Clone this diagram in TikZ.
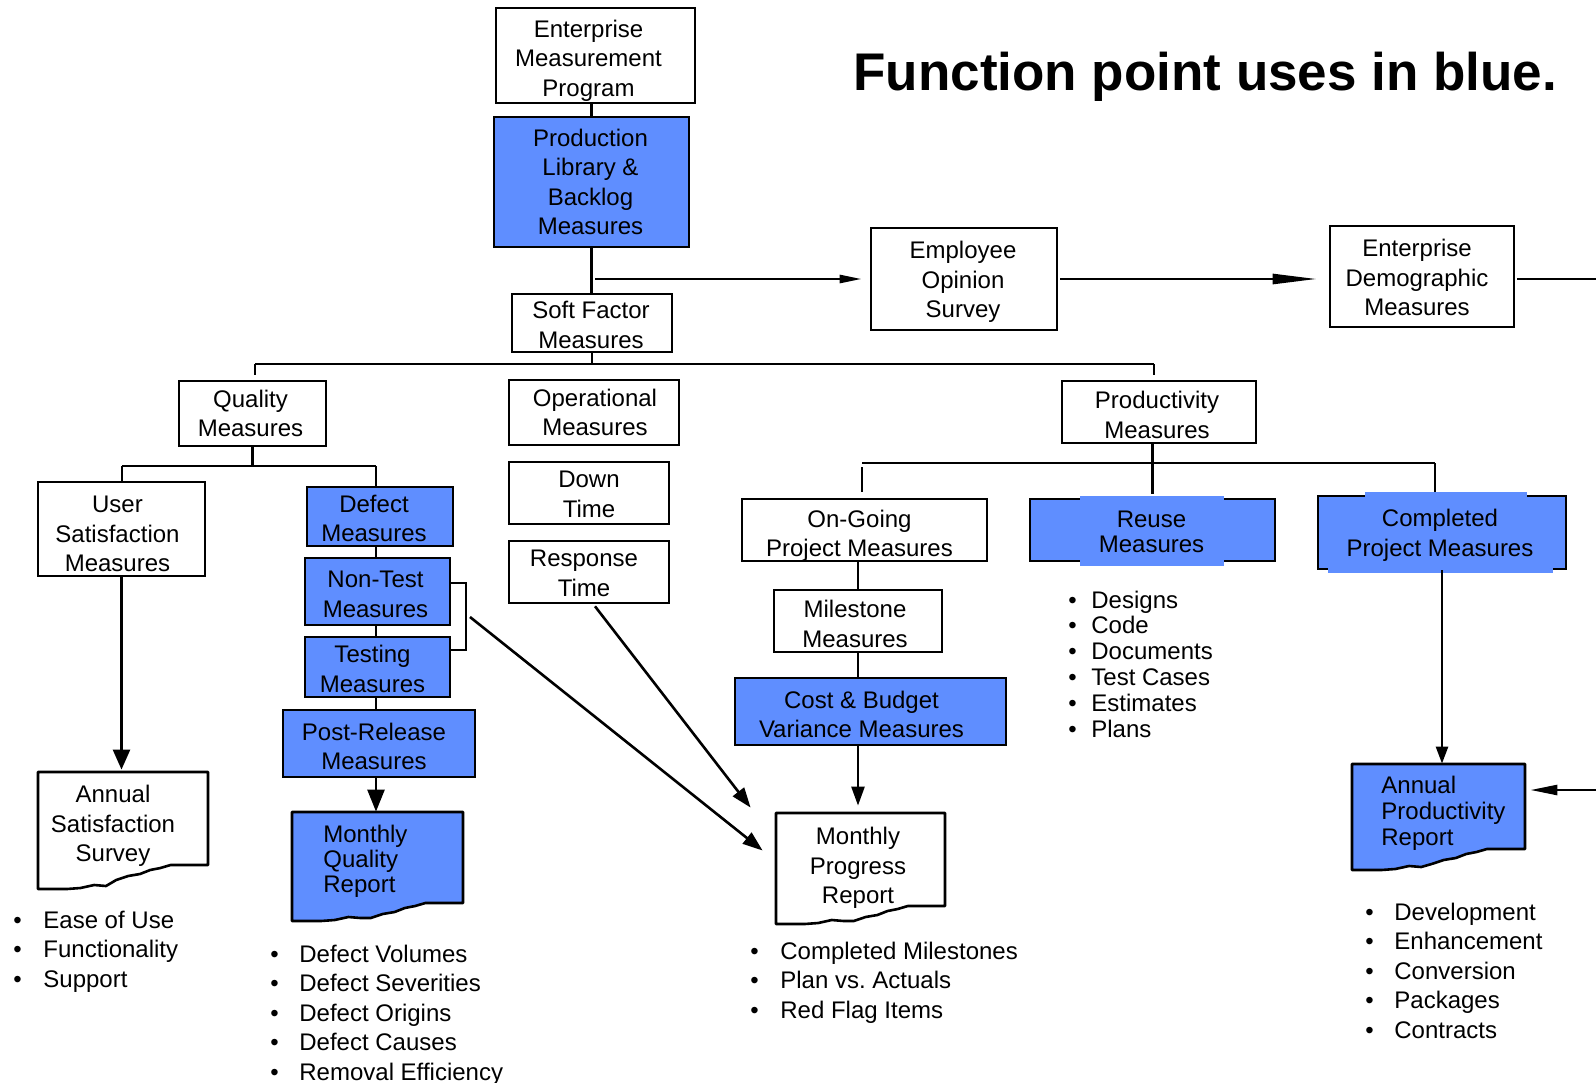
\documentclass[tikz,border=0pt]{standalone}
\usepackage{fontspec}
\setmainfont{Liberation Sans}
\usetikzlibrary{arrows.meta,calc}
\definecolor{fpblue}{HTML}{5F8EFF}
\frenchspacing
\tikzset{
  box/.style={draw, line width=1.3pt, inner sep=0pt},
  bluebox/.style={box, fill=fpblue},
  ghost/.style={inner sep=0pt},
  txt/.style={inner sep=0pt, align=center, font=\fontsize{12}{14.75}\selectfont},
  txttight/.style={txt, font=\fontsize{12}{12.75}\selectfont},
  conn/.style={line width=1.3pt},
  arrV/.style={conn, -{Triangle[length=10pt,width=8.5pt]}},
  arrD/.style={conn, -{Triangle[length=10pt,width=7pt]}},
  arrH1/.style={conn, -{Triangle[length=11pt,width=4pt]}},
  arrH2/.style={conn, -{Triangle[length=22pt,width=5pt]}},
  arrH3/.style={conn, -{Triangle[length=13.5pt,width=5pt]}},
  bul/.style={inner sep=0pt, anchor=base west, font=\fontsize{12}{14.75}\selectfont},
}
% box outline: name, style, x1, y1, x2, y2
\newcommand\bxbox[6]{\node[#2, minimum width={(#5-#3)*0.5pt}, minimum height={(#6-#4)*0.5pt}] (#1) at ({(#3+#5)/2},{(#4+#6)/2}) {};}
% box text: name, style, x1, y1, x2, y2, dx, dy, text
\newcommand\bxtext[9]{\node[#2] (#1-t) at ({(#3+#5)/2+#7},{(#4+#6)/2+#8}) {#9};}
\newcommand\bx[9]{\bxbox{#1}{#2}{#3}{#4}{#5}{#6}\bxtext{#1}{txt}{#3}{#4}{#5}{#6}{#7}{#8}{#9}}
% document outline: style, x1, y1, x2, y2, drop
\newcommand\docshape[6]{%
  \draw[#1, line width=1.3pt, line join=round] (#2,#3) -- (#4,#3) -- (#4,{#5-#6})
   -- ({#2+0.78*(#4-#2)},{#5-#6})
   -- ({#2+0.72*(#4-#2)},{#5-#6+3})
   -- ({#2+0.66*(#4-#2)},{#5-#6+5})
   -- ({#2+0.60*(#4-#2)},{#5-#6+9})
   -- ({#2+0.53*(#4-#2)},{#5-#6+11})
   -- ({#2+0.46*(#4-#2)},{#5-#6+15})
   -- ({#2+0.40*(#4-#2)},{#5-3})
   -- ({#2+0.33*(#4-#2)},{#5-4})
   -- ({#2+0.25*(#4-#2)},{#5-1})
   -- ({#2+0.17*(#4-#2)},{#5})
   -- (#2,#5) -- cycle;}
% bullet list: name, bullet x, text x, first baseline, spacing, items
\newcommand\blist[6]{%
  \foreach \t [count=\i] in {#6} {
    \node[bul] (#1b\i) at (#2,{#4+(\i-1)*#5}) {\textbullet};
    \node[bul] (#1t\i) at (#3,{#4+(\i-1)*#5}) {\t};
  }}
\begin{document}
\begin{tikzpicture}[x=0.5pt,y=-0.5pt]
\fill[white] (0,0) rectangle (1596,1082);
\useasboundingbox (0,0) rectangle (1596,1082);

% title
\node[anchor=base west, inner sep=0pt, font=\fontsize{26.5}{30}\selectfont\bfseries] (title) at (853,90) {Function point uses in blue.};

% top column
\bx{emp}{box}{496}{8}{695}{103}{-7}{5}{Enterprise\\Measurement\\Program}
\bx{prod}{bluebox}{494}{117}{689}{247}{-1}{0}{Production\\Library \&\\Backlog\\Measures}
\bx{soft}{box}{512}{294}{672}{352}{-1}{2}{Soft Factor\\Measures}
\bx{eos}{box}{871}{228}{1057}{330}{-1}{3}{Employee\\Opinion\\Survey}
\bx{dem}{box}{1330}{226}{1514}{327}{-5}{1}{Enterprise\\Demographic\\Measures}

% second level
\bx{qual}{box}{179}{381}{326}{446}{-2}{0}{Quality\\Measures}
\bx{oper}{box}{509}{380}{679}{445}{1}{0}{Operational\\Measures}
\bx{prodm}{box}{1062}{381}{1256}{443}{-2}{3}{Productivity\\Measures}

% quality branch
\bx{usat}{box}{38}{482}{205}{576}{-4}{5}{User\\Satisfaction\\Measures}
\bx{defect}{bluebox}{307}{487}{453}{546}{-6}{2}{Defect\\Measures}
\bx{nontest}{bluebox}{305}{558}{450}{625}{-2}{3}{Non-Test\\Measures}
\bx{testing}{bluebox}{305}{637}{450}{697}{-5}{2}{Testing\\Measures}
\bx{post}{bluebox}{283}{710}{475}{777}{-5}{3}{Post-Release\\Measures}

% operational branch
\bx{down}{box}{509}{462}{669}{524}{0}{1.5}{Down\\Time}
\bx{resp}{box}{509}{541}{669}{603}{-5}{1.5}{Response\\Time}

% productivity branch
\bx{ongo}{box}{742}{499}{987}{561}{-5}{6}{On-Going\\Project Measures}
\bx{mile}{box}{774}{590}{942}{652}{-3}{3}{Milestone\\Measures}
\bx{cost}{bluebox}{735}{678}{1006}{745}{-9}{3}{Cost \& Budget\\Variance Measures}
\bxbox{reuse}{bluebox}{1030}{499}{1275}{561}
\fill[fpblue] (1080,496) rectangle (1224,566);
\bxtext{reuse}{txttight}{1030}{499}{1275}{561}{-1}{2}{Reuse\\Measures}
\bxbox{comp}{bluebox}{1318}{496}{1566}{569}
\fill[fpblue] (1365,492) rectangle (1527,540);
\fill[fpblue] (1328,520) rectangle (1553,573);
\bxtext{comp}{txt}{1318}{496}{1566}{569}{-2}{3}{Completed\\Project Measures}

% documents
\docshape{fill=white}{38}{772}{208}{889}{24}
\bxbox{asat}{ghost}{38}{772}{208}{889}
\node[txt] (asat-t) at (113,826) {Annual\\Satisfaction\\Survey};

\docshape{fill=fpblue}{292}{812}{463}{921}{18}
\bxbox{mqr}{ghost}{292}{812}{463}{921}
\node[anchor=north west, inner sep=0pt, align=left, font=\fontsize{12}{12.5}\selectfont] (mqr-t) at (323,825) {Monthly\\Quality\\Report};

\docshape{fill=white}{776}{813}{945}{924}{18}
\bxbox{mpr}{ghost}{776}{813}{945}{924}
\node[txt] (mpr-t) at (858,868) {Monthly\\Progress\\Report};

\docshape{fill=fpblue}{1352}{764}{1525}{870}{21}
\bxbox{apr}{ghost}{1352}{764}{1525}{870}
\node[anchor=north west, inner sep=0pt, align=left, font=\fontsize{12}{13}\selectfont] (apr-t) at (1381,776) {Annual\\Productivity\\Report};

% connectors, top
\draw[conn] (prod.north) -- (prod.north |- emp.south);
\draw[conn] (prod.south) -- (prod.south |- soft.north);
\coordinate (h0) at (595,279);
\draw[arrH1, shorten >=4pt] (h0) -- (eos.west |- h0);
\draw[arrH2, shorten >=6pt, shorten <=1pt] (eos.east |- h0) -- (dem.west |- h0);
\coordinate (redge) at (1596,279);
\draw[conn] ($(dem.east |- redge)+(2,0)$) -- (redge);

% main bus
\coordinate (busL) at (255,364);
\coordinate (busR) at (1154,364);
\draw[conn] (busL) -- (busR);
\draw[conn] (soft.south) -- (soft.south |- busL);
\draw[conn] (busL) -- ($(busL |- qual.north)+(0,-5)$);
\draw[conn] (busR) -- ($(busR |- prodm.north)+(0,-5)$);

% quality bus
\coordinate (qbusL) at (122,466);
\coordinate (qbusR) at (376,466);
\draw[conn] (qual.south) -- (qual.south |- qbusL);
\draw[conn] (qbusL) -- (qbusR);
\draw[conn] (qbusL) -- (qbusL |- usat.north);
\draw[conn] (qbusR) -- (qbusR |- defect.north);
\draw[conn] (defect.south -| qbusR) -- (nontest.north -| qbusR);
\draw[conn] (nontest.south -| qbusR) -- (testing.north -| qbusR);
\draw[conn] (testing.south -| qbusR) -- (post.north -| qbusR);
\draw[arrV, -{Triangle[length=11pt,width=8.5pt]}] (post.south -| qbusR) -- (mqr.north -| qbusR);
\draw[arrV, shorten >=1pt] (usat.south) -- (usat.south |- asat.north);

% bracket and diagonal arrows
\coordinate (brA) at (466,583);
\coordinate (brB) at (466,650);
\draw[conn] (nontest.east |- brA) -- (brA) -- (brB) -- (testing.east |- brB);
\coordinate (d0) at (470,617);
\draw[arrD] (d0) -- ($(mpr.west)+(-13,-18)$);
\draw[arrD] ($(resp.south)+(6,2)$) -- ($(mpr.north west)+(-25,-5)$);

% productivity bus
\coordinate (pbusL) at (862,463);
\coordinate (pbusR) at (1435,463);
\draw[conn] (pbusL) -- (pbusR);
\draw[conn] (reuse.north |- prodm.south) -- ($(reuse.north)+(0,-4)$);
\draw[conn] ($(pbusL)+(0,4)$) -- ($(pbusL |- ongo.north)+(0,-6)$);
\draw[conn] (pbusR) -- ($(pbusR |- comp.north)+(0,-3)$);
\draw[conn] (ongo.south -| mile.north) -- (mile.north);
\draw[conn] (mile.south) -- (mile.south |- cost.north);
\draw[arrV, -{Triangle[length=9.5pt,width=6.5pt]}, shorten >=3.5pt] (cost.south -| mile.south) -- (mile.south |- mpr.north);
\draw[arrV, -{Triangle[length=8.5pt,width=6pt]}] (comp.south) -- (comp.south |- apr.north);
\coordinate (redge2) at (1596,790);
\draw[arrH3, shorten >=2.5pt] (redge2) -- (apr.east |- redge2);

% bullet lists
\blist{la}{13}{43}{928}{29.5}{Ease of Use,Functionality,Support}
\blist{lb}{270}{299}{962}{29.5}{Defect Volumes,Defect Severities,Defect Origins,Defect Causes,Removal Efficiency}
\blist{lc}{750}{780}{959}{29.5}{Completed Milestones,Plan vs. Actuals,Red Flag Items}
\blist{ld}{1068}{1091}{608}{25.8}{Designs,Code,Documents,Test Cases,Estimates,Plans}
\blist{le}{1365}{1394}{920}{29.5}{Development,Enhancement,Conversion,Packages,Contracts}
\end{tikzpicture}
\end{document}
